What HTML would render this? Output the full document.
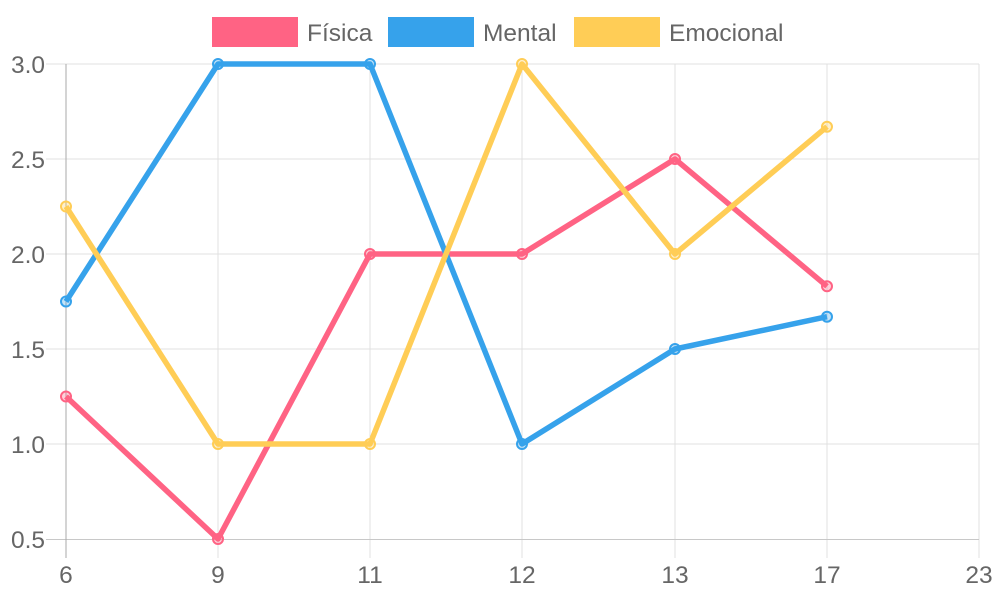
<!DOCTYPE html><html><head><style>body{margin:0;background:#fff}</style></head><body>
<svg width="1000" height="600" xmlns="http://www.w3.org/2000/svg" font-family="Liberation Sans, sans-serif">
<g stroke="#e1e1e1" stroke-width="1">
<line x1="46" y1="64" x2="979" y2="64"/><line x1="46" y1="159" x2="979" y2="159"/><line x1="46" y1="254" x2="979" y2="254"/><line x1="46" y1="349" x2="979" y2="349"/><line x1="46" y1="444" x2="979" y2="444"/>
<line x1="218" y1="64" x2="218" y2="558"/><line x1="370" y1="64" x2="370" y2="558"/><line x1="522" y1="64" x2="522" y2="558"/><line x1="675" y1="64" x2="675" y2="558"/><line x1="827" y1="64" x2="827" y2="558"/><line x1="979" y1="64" x2="979" y2="558"/>
</g>
<line x1="46" y1="539.5" x2="979" y2="539.5" stroke="#c8c8c8"/>
<line x1="66" y1="64" x2="66" y2="558" stroke="#aaa"/>
<g fill="#666" font-size="24.5" text-anchor="end">
<text x="45" y="73">3.0</text><text x="45" y="168">2.5</text><text x="45" y="263">2.0</text><text x="45" y="358">1.5</text><text x="45" y="453">1.0</text><text x="45" y="548">0.5</text>
</g>
<g fill="#666" font-size="24.5" text-anchor="middle">
<text x="66" y="583">6</text><text x="218" y="583">9</text><text x="370" y="583">11</text><text x="522" y="583">12</text><text x="675" y="583">13</text><text x="827" y="583">17</text><text x="979" y="583">23</text>
</g>
<g fill="none" stroke-width="5.5" stroke-linejoin="round">
<polyline stroke="#ff6384" points="66,396.5 218,539 370,254 522,254 675,159 827,286.3"/>
<polyline stroke="#36a2eb" points="66,301.5 218,64 370,64 522,444 675,349 827,316.7"/>
<polyline stroke="#ffcd56" points="66,206.5 218,444 370,444 522,64 675,254 827,126.7"/>
</g>
<g stroke-width="2">
<g stroke="#ff6384" fill="rgba(255,99,132,0.3)"><circle cx="66" cy="396.5" r="5"/><circle cx="218" cy="539" r="5"/><circle cx="370" cy="254" r="5"/><circle cx="522" cy="254" r="5"/><circle cx="675" cy="159" r="5"/><circle cx="827" cy="286.3" r="5"/></g>
<g stroke="#36a2eb" fill="rgba(54,162,235,0.3)"><circle cx="66" cy="301.5" r="5"/><circle cx="218" cy="64" r="5"/><circle cx="370" cy="64" r="5"/><circle cx="522" cy="444" r="5"/><circle cx="675" cy="349" r="5"/><circle cx="827" cy="316.7" r="5"/></g>
<g stroke="#ffcd56" fill="rgba(255,205,86,0.3)"><circle cx="66" cy="206.5" r="5"/><circle cx="218" cy="444" r="5"/><circle cx="370" cy="444" r="5"/><circle cx="522" cy="64" r="5"/><circle cx="675" cy="254" r="5"/><circle cx="827" cy="126.7" r="5"/></g>
</g>
<rect x="212" y="17" width="86" height="30" fill="#ff6384"/>
<rect x="388" y="17" width="86" height="30" fill="#36a2eb"/>
<rect x="574" y="17" width="86" height="30" fill="#ffcd56"/>
<g fill="#666" font-size="24.5">
<text x="307" y="41">Física</text><text x="483" y="41">Mental</text><text x="669" y="41">Emocional</text>
</g>
</svg>
</body></html>
